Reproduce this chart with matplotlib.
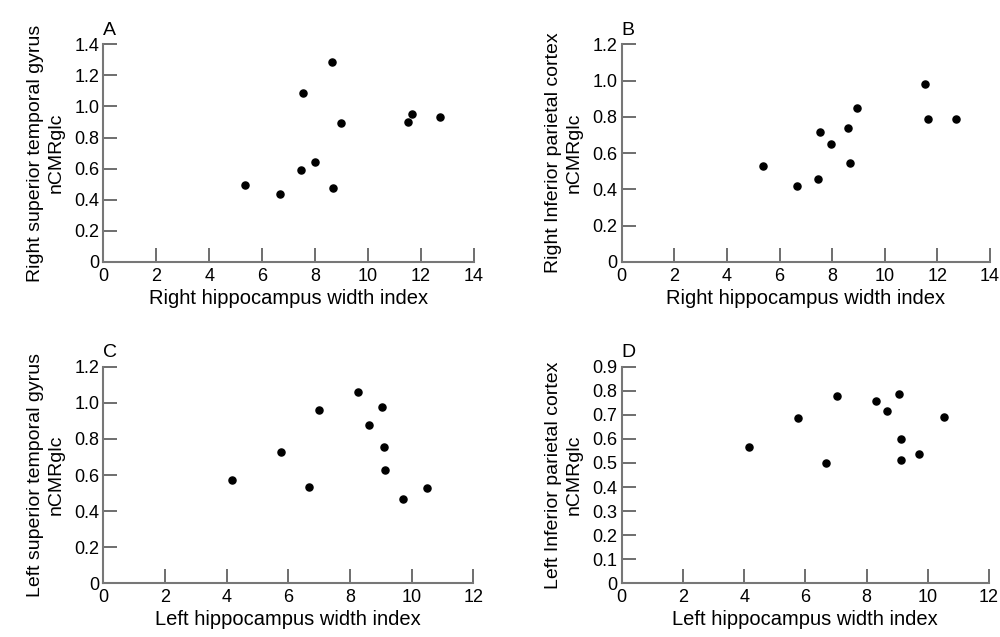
import matplotlib
matplotlib.use("Agg")
import matplotlib.pyplot as plt

plt.rcParams['font.family'] = ['Liberation Sans', 'DejaVu Sans']

# Panel A: right hippocampus vs right superior temporal gyrus
a_x = [5.35, 6.67, 7.47, 7.55, 8.0, 8.62, 8.67, 8.96, 11.5, 11.65, 12.72]
a_y = [0.496, 0.436, 0.59, 1.084, 0.644, 1.284, 0.477, 0.891, 0.90, 0.951, 0.934]
# Panel B: right hippocampus vs right inferior parietal cortex
b_x = [5.38, 6.68, 7.47, 7.52, 7.97, 8.62, 8.66, 8.96, 11.52, 11.65, 12.71]
b_y = [0.528, 0.418, 0.456, 0.718, 0.650, 0.738, 0.548, 0.849, 0.981, 0.788, 0.788]
# Panel C: left hippocampus vs left superior temporal gyrus
c_x = [4.17, 5.76, 6.67, 6.99, 8.27, 8.62, 9.04, 9.10, 9.15, 9.71, 10.50]
c_y = [0.572, 0.727, 0.532, 0.958, 1.058, 0.879, 0.977, 0.757, 0.628, 0.469, 0.528]
# Panel D: left hippocampus vs left inferior parietal cortex
d_x = [4.17, 5.77, 6.67, 7.02, 8.30, 8.66, 9.07, 9.12, 9.14, 9.71, 10.52]
d_y = [0.568, 0.685, 0.498, 0.777, 0.756, 0.714, 0.786, 0.598, 0.514, 0.537, 0.692]

panel_letters = ['A', 'B', 'C', 'D']
x_labels = ['Right hippocampus width index', 'Right hippocampus width index',
            'Left hippocampus width index', 'Left hippocampus width index']
y_labels = ['Right superior temporal gyrus\nnCMRglc', 'Right Inferior parietal cortex\nnCMRglc',
            'Left superior temporal gyrus\nnCMRglc', 'Left Inferior parietal cortex\nnCMRglc']
x_ticks = [[0, 2, 4, 6, 8, 10, 12, 14], [0, 2, 4, 6, 8, 10, 12, 14],
           [0, 2, 4, 6, 8, 10, 12], [0, 2, 4, 6, 8, 10, 12]]
y_ticks = [[0, 0.2, 0.4, 0.6, 0.8, 1.0, 1.2, 1.4],
           [0, 0.2, 0.4, 0.6, 0.8, 1.0, 1.2],
           [0, 0.2, 0.4, 0.6, 0.8, 1.0, 1.2],
           [0, 0.1, 0.2, 0.3, 0.4, 0.5, 0.6, 0.7, 0.8, 0.9]]
y_ticklabels = [['0', '0.2', '0.4', '0.6', '0.8', '1.0', '1.2', '1.4'],
                ['0', '0.2', '0.4', '0.6', '0.8', '1.0', '1.2'],
                ['0', '0.2', '0.4', '0.6', '0.8', '1.0', '1.2'],
                ['0', '0.1', '0.2', '0.3', '0.4', '0.5', '0.6', '0.7', '0.8', '0.9']]

xs = [a_x, b_x, c_x, d_x]
ys = [a_y, b_y, c_y, d_y]

fig = plt.figure(figsize=(10, 6.37), dpi=100)
positions = [[0.1033, 0.5887, 0.3707, 0.3418],
             [0.6217, 0.5887, 0.3683, 0.3418],
             [0.1033, 0.0843, 0.3700, 0.3400],
             [0.6217, 0.0843, 0.3673, 0.3400]]

spine_col = '#777777'
for i in range(4):
    ax = fig.add_axes(positions[i])
    ax.scatter(xs[i], ys[i], s=26, color='black', zorder=3, clip_on=False)
    ax.set_xlim(x_ticks[i][0], x_ticks[i][-1])
    ax.set_ylim(y_ticks[i][0], y_ticks[i][-1])
    ax.set_xticks(x_ticks[i])
    ax.set_xticklabels([str(t) for t in x_ticks[i]])
    ax.set_yticks(y_ticks[i])
    ax.set_yticklabels(y_ticklabels[i])
    for s in ['top', 'right']:
        ax.spines[s].set_visible(False)
    for s in ['left', 'bottom']:
        ax.spines[s].set_color(spine_col)
        ax.spines[s].set_linewidth(1.5)
    ax.tick_params(direction='in', length=10, width=1.2, color='#555555',
                   labelsize=13, pad=3)
    ax.tick_params(axis='x', pad=4)
    ax.set_xlabel(x_labels[i], fontsize=14.5, labelpad=3)
    ax.set_ylabel(y_labels[i], fontsize=14, labelpad=7, linespacing=1.25)
    ax.text(0.0, 1.025, panel_letters[i], transform=ax.transAxes,
            fontsize=14, ha='left', va='bottom')

fig.savefig('out.png', dpi=100)
